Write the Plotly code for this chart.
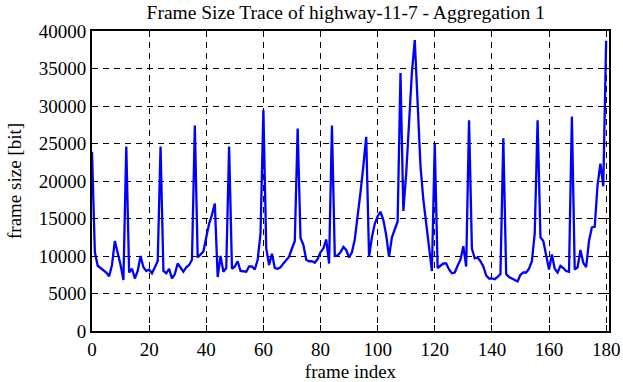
import plotly.graph_objects as go

frame_size = [
    23900, 10500, 8700, 8400, 8200, 7800, 7300, 8800, 12000, 10500,
    8800, 6800, 24600, 7800, 8300, 7000, 8000, 10000, 8500, 8000,
    8200, 7700, 8500, 9300, 24600, 8000, 7700, 8300, 7000, 7600,
    9000, 8500, 7900, 8500, 8800, 9500, 27400, 9800, 10200, 10600,
    12500, 14300, 15500, 17000, 7200, 10000, 7900, 8400, 24600, 8300,
    8600, 9300, 8000, 8000, 7900, 8600, 8600, 8200, 9500, 13000,
    29500, 11000, 8800, 10300, 8400, 8300, 8500, 9000, 9400, 9900,
    11000, 12000, 27000, 12400, 11500, 9500, 9300, 9300, 9100, 9600,
    10500, 11000, 12200, 9000, 27400, 10000, 10100, 10500, 11200, 10800,
    9800, 10500, 12200, 15000, 18500, 22000, 25900, 9900, 12500, 14300,
    15300, 15900, 14800, 12800, 9900, 12500, 13500, 14600, 34400, 16000,
    21000, 28000, 34500, 38800, 30000, 22000, 17500, 14500, 11000, 8000,
    25000, 8400, 8700, 9000, 9000, 8200, 7700, 7800, 8700, 9500,
    11300, 8600, 28100, 11000, 9700, 9800, 9300, 8600, 7400, 7000,
    7000, 6900, 7200, 7600, 25700, 7600, 7200, 7000, 6900, 6600,
    7500, 7800, 7800, 8300, 9300, 13000, 28100, 12500, 12000, 10000,
    8200, 10200, 8300, 7800, 8700, 8400, 8000, 7900, 28600, 8200,
    8500, 10800, 9100, 8500, 12000, 13800, 13900, 19500, 22300, 19300,
    38700,
]
frame_index = list(range(len(frame_size)))

x_ticks = list(range(0, 181, 20))
y_ticks = list(range(0, 40001, 5000))
y_tick_labels = [str(v) for v in y_ticks]

FONT = "Liberation Serif"
FS = 19

fig = go.Figure()
fig.add_trace(go.Scatter(
    x=frame_index, y=frame_size, mode="lines",
    line=dict(color="#0000ff", width=2.3),
    showlegend=False,
))

axis_common = dict(
    showline=True, linecolor="black", linewidth=2, mirror="allticks",
    ticks="inside", ticklen=6, tickcolor="black", tickwidth=1,
    showgrid=True, gridcolor="black", gridwidth=1, griddash="6px,5px",
    zeroline=False, automargin=False,
    tickfont=dict(family=FONT, size=FS, color="black"),
)

fig.update_layout(
    width=623, height=382,
    margin=dict(l=92, r=14, t=31, b=51),
    paper_bgcolor="white", plot_bgcolor="white",
    title=dict(text="Frame Size Trace of highway-11-7 - Aggregation 1",
               font=dict(family=FONT, size=19.5, color="black"),
               x=0.555, xanchor="center", y=0.985, yanchor="top"),
    xaxis=dict(range=[0, 181], tickvals=x_ticks,
               title=dict(text="frame index", font=dict(family=FONT, size=FS, color="black"),
                          standoff=7),
               **axis_common),
    yaxis=dict(range=[0, 40000], tickvals=y_ticks, ticktext=y_tick_labels,
               title=dict(text="frame size [bit]", font=dict(family=FONT, size=FS, color="black"),
                          standoff=12),
               **axis_common),
)

fig.write_html(
    "out.html",
    config={"displayModeBar": False},
    post_script="document.body.style.margin='0';document.body.style.overflow='hidden';",
)
